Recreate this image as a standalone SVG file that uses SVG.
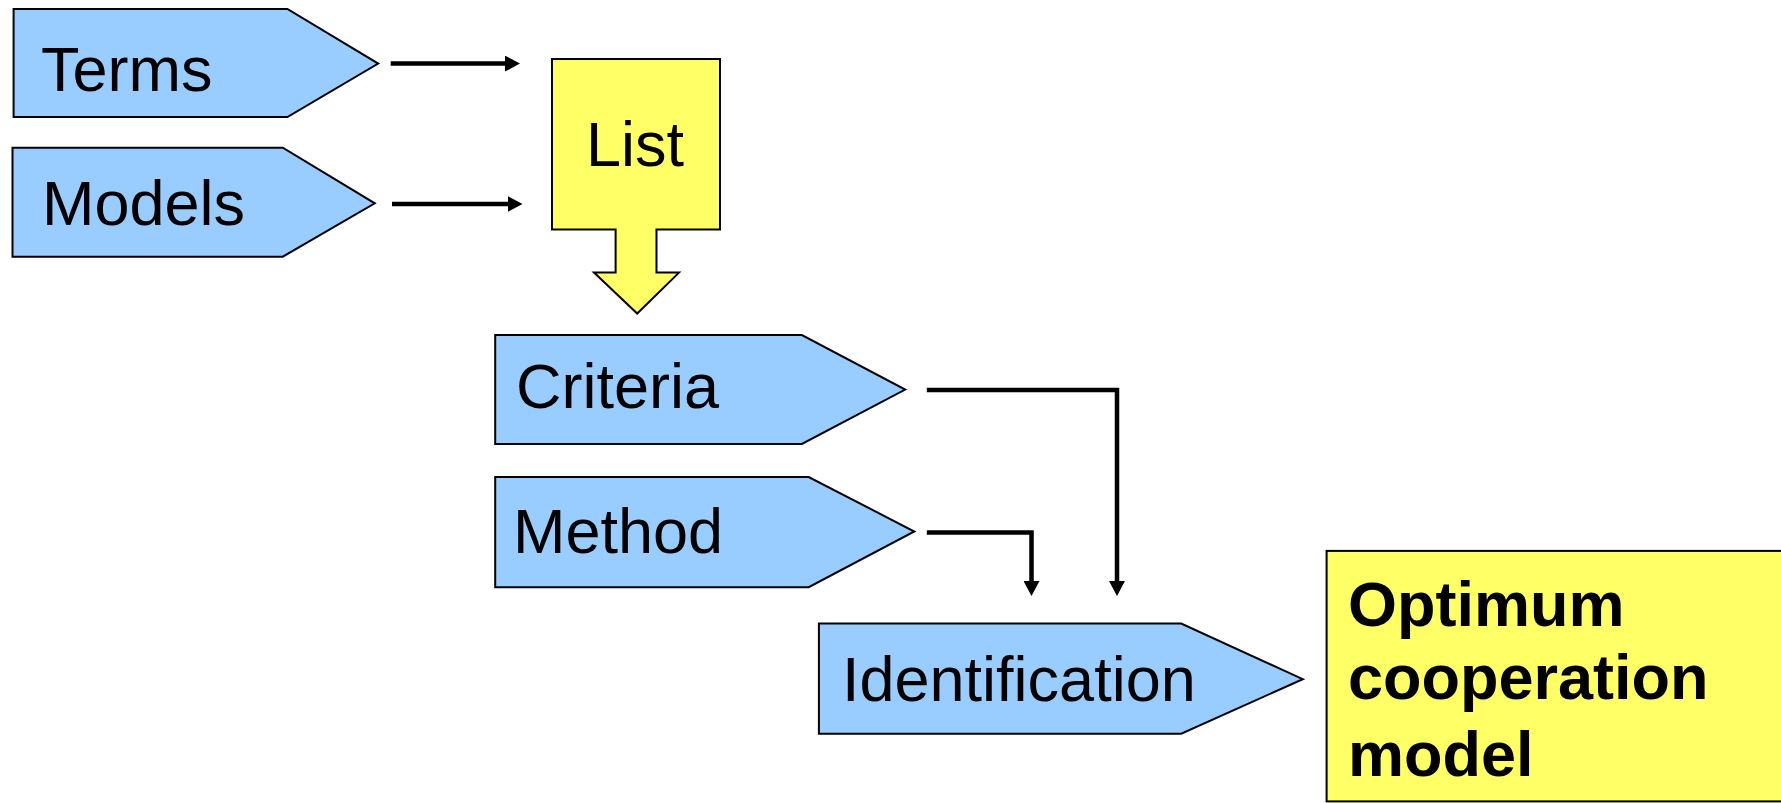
<svg xmlns="http://www.w3.org/2000/svg" width="1781" height="803" viewBox="0 0 1781 803">
<style>
.blue{fill:#99CCFF;stroke:#000;stroke-width:2}
.yel{fill:#FFFF66;stroke:#000;stroke-width:2}
.t{font-family:"Liberation Sans",Arial,sans-serif;font-size:63px;fill:#000}
.b{font-family:"Liberation Sans",Arial,sans-serif;font-size:63px;font-weight:bold;fill:#000}
.c{fill:none;stroke:#000;stroke-width:4.5;marker-end:url(#ah)}
</style>
<defs>
<marker id="ah" markerUnits="userSpaceOnUse" markerWidth="16" markerHeight="16" refX="2" refY="8" orient="auto" viewBox="0 0 16 16">
<path d="M0,0 L15,8 L0,16 z" fill="#000"/>
</marker>
</defs>
<rect width="1781" height="803" fill="#fff"/>
<g id="terms">
<polygon class="blue" points="13.6,9 287.4,9 378.2,63.6 287.4,117 13.6,117"/>
<text class="t" x="41" y="91">Terms</text>
</g>
<g id="models">
<polygon class="blue" points="12.5,147.7 282.8,147.7 374.8,203.3 282.8,256.7 12.5,256.7"/>
<text class="t" x="42" y="225">Models</text>
</g>
<g id="list">
<polygon class="yel" points="552,59 720,59 720,229.4 656.5,229.4 656.5,272.6 679,272.6 637.2,313.5 594,272.6 615.6,272.6 615.6,229.4 552,229.4"/>
<text class="t" x="586" y="166">List</text>
</g>
<g id="criteria">
<polygon class="blue" points="495.2,335 801.9,335 905.2,389.6 801.9,444 495.2,444"/>
<text class="t" x="516" y="408">Criteria</text>
</g>
<g id="method">
<polygon class="blue" points="495.2,477 808.7,477 914.3,531.5 808.7,587.2 495.2,587.2"/>
<text class="t" x="513" y="553">Method</text>
</g>
<g id="identification">
<polygon class="blue" points="818.9,623.5 1181.2,623.5 1302.8,679.2 1181.2,733.7 818.9,733.7"/>
<text class="t" x="842" y="701">Identification</text>
</g>
<g id="optimum">
<rect class="yel" x="1326.6" y="550.9" width="470" height="250.5"/>
<text class="b" x="1348" y="626">Optimum</text>
<text class="b" x="1348" y="699">cooperation</text>
<text class="b" x="1348" y="776">model</text>
</g>
<g id="connectors">
<path class="c" d="M390.7,63.6 H507"/>
<path class="c" d="M392,204 H509.5"/>
<path class="c" d="M926.8,390 H1117 V583"/>
<path class="c" d="M926.8,532.5 H1031.5 V583"/>
</g>
</svg>
